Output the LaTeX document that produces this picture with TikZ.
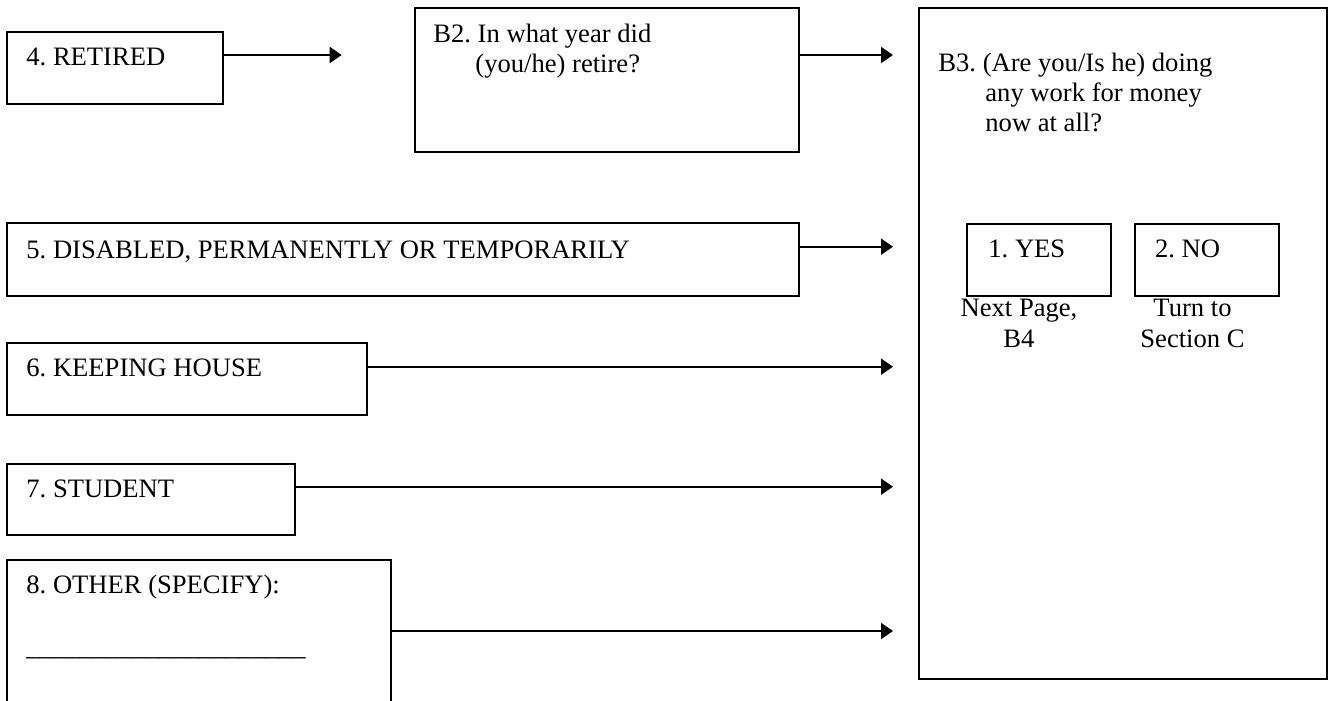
\documentclass[tikz,border=0pt]{standalone}
\usepackage{fontspec}
\setmainfont{Liberation Serif}
\usetikzlibrary{arrows.meta,positioning}

\tikzset{
  box/.style={draw,line width=1pt,inner sep=0pt,anchor=north west},
  txt/.style={anchor=base west,inner sep=0pt,align=left},
  sub/.style={anchor=base,inner sep=0pt,align=center},
  arr/.style={line width=1pt,-{Triangle[length=6pt,width=8pt]}}
}

\begin{document}
\begin{tikzpicture}[x=0.5pt,y=-0.5pt,font=\fontsize{13.3}{15.2}\selectfont\frenchspacing]
\clip (0,0) rectangle (1328,701);
% answer boxes on the left
\node[box,minimum width=108.2pt,minimum height=36pt] (ret) at (5.7,30.7) {};
\node[box,minimum width=396.3pt,minimum height=36.3pt] (dis) at (5.7,222) {};
\node[box,minimum width=180.2pt,minimum height=36.2pt] (keep) at (5.7,342) {};
\node[box,minimum width=144.3pt,minimum height=35.8pt] (stud) at (5.7,462.7) {};
\node[box,minimum width=192.2pt,minimum height=80pt] (oth) at (5.7,559) {};
% question boxes
\node[box,minimum width=192.3pt,minimum height=72pt] (b2) at (413.7,6.7) {};
\node[box,minimum width=203.9pt,minimum height=335.8pt] (b3) at (918,6.7) {};
\node[box,minimum width=72.3pt,minimum height=36pt] (yes) at (965.7,222.7) {};
\node[box,minimum width=72.2pt,minimum height=36pt] (no) at (1133.7,222.7) {};

% texts (base of last line)
\node[txt] (retT) at (26,66) {4. RETIRED};
\node[txt] (disT) at (26,258) {5. DISABLED, PERMANENTLY OR TEMPORARILY};
\node[txt] (keepT) at (26,376.7) {6. KEEPING HOUSE};
\node[txt] (studT) at (26,497.7) {7. STUDENT};
\node[txt] (othT) at (26,593) {8. OTHER (SPECIFY):};
\node[txt] (othL) at (26,655) {\_\_\_\_\_\_\_\_\_\_\_\_\_\_\_\_\_\_\_\_\_};
\node[txt] (b2T) at (433,72.5) {B2. In what year did\\\hspace*{21pt}(you/he) retire?};
\node[txt] (b3T) at (938,132) {B3. (Are you/Is he) doing\\\hspace*{23.5pt}any work for money\\\hspace*{23.5pt}now at all?};
\node[txt] (yesT) at (988,257) {1. YES};
\node[txt] (noT) at (1154.7,257) {2. NO};
\node[sub] (nextT) at (1019,347.3) {Next Page,\\B4};
\node[sub] (turnT) at (1192.5,347.3) {Turn to\\Section C};

% connectors
\coordinate (e1) at (341.7,55);
\coordinate (e2) at (893,55);
\coordinate (e3) at (893,246.7);
\coordinate (e4) at (893,366.7);
\coordinate (e5) at (893,486.7);
\coordinate (e6) at (893,631);
\draw[arr] (ret.east |- e1) -- (e1);
\draw[arr] (b2.east |- e2) -- (e2);
\draw[arr] (dis.east |- e3) -- (e3);
\draw[arr] (keep.east |- e4) -- (e4);
\draw[arr] (stud.east |- e5) -- (e5);
\draw[arr] (oth.east |- e6) -- (e6);
\end{tikzpicture}
\end{document}
